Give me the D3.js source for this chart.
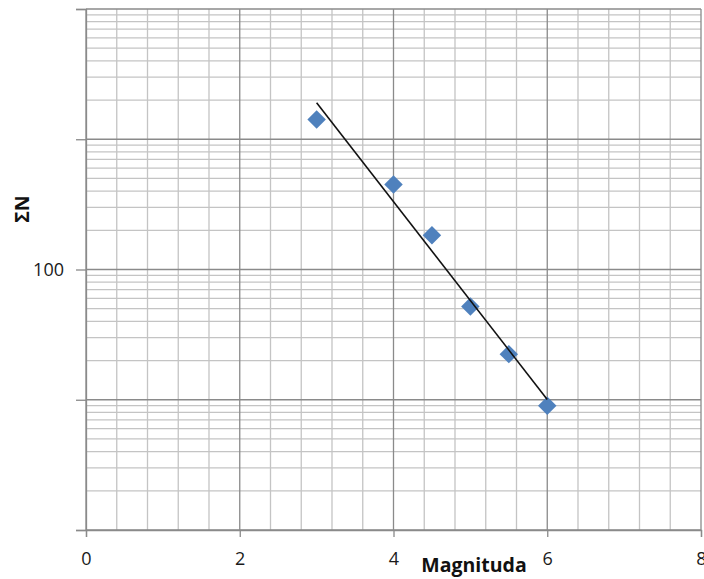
<!DOCTYPE html>
<html>
<head>
<meta charset="utf-8">
<script src="https://cdn.jsdelivr.net/npm/d3@7"></script>
<style>
  body { margin: 0; background: #fff; }
  svg { display: block; }
  .tick text { font-family: "Open Sans", sans-serif; font-size: 18px; fill: #1a1a1a; }
  .axis-title { font-family: "Open Sans", sans-serif; font-weight: bold; font-size: 19.5px; fill: #111; }
</style>
</head>
<body>
<div id="chart"></div>
<script>
  // data
  var magnitudes = [3, 4, 4.5, 5, 5.5, 6];
  var cumulativeN = [1420, 450, 183, 52, 22.4, 9];
  var xTicks = [0, 2, 4, 6, 8];
  var yDecades = [1, 10, 100, 1000, 10000];
  var yLabelled = [100];

  var width = 704,
      height = 579;

  var svg = d3.select("#chart")
      .append("svg")
      .attr("width", width)
      .attr("height", height);

  var x = d3.scaleLinear().domain([0, 8]).range([86, 701]);
  var y = d3.scaleLog().domain([1, 10000]).range([530, 9]);

  // minor grid
  var xMinor = d3.range(0, 8.001, 0.4).filter(function(v) {
    return Math.abs(v / 2 - Math.round(v / 2)) > 1e-6;
  });
  var yMinor = [];
  yDecades.slice(0, -1).forEach(function(d) {
    for (var k = 2; k <= 9; k++) yMinor.push(k * d);
  });

  var grid = svg.append("g");
  grid.selectAll(".vminor").data(xMinor).enter().append("line")
      .attr("x1", function(d) { return x(d); })
      .attr("x2", function(d) { return x(d); })
      .attr("y1", y(10000)).attr("y2", y(1))
      .attr("stroke", "#c4c4c4").attr("stroke-width", 1.3);
  grid.selectAll(".hminor").data(yMinor).enter().append("line")
      .attr("x1", x(0)).attr("x2", x(8))
      .attr("y1", function(d) { return y(d); })
      .attr("y2", function(d) { return y(d); })
      .attr("stroke", "#c4c4c4").attr("stroke-width", 1.3);
  grid.selectAll(".vmajor").data(xTicks).enter().append("line")
      .attr("x1", function(d) { return x(d); })
      .attr("x2", function(d) { return x(d); })
      .attr("y1", y(10000)).attr("y2", y(1))
      .attr("stroke", "#8a8a8a").attr("stroke-width", 1.3);
  grid.selectAll(".hmajor").data(yDecades).enter().append("line")
      .attr("x1", x(0)).attr("x2", x(8))
      .attr("y1", function(d) { return y(d); })
      .attr("y2", function(d) { return y(d); })
      .attr("stroke", "#8a8a8a").attr("stroke-width", 1.3);

  // axes
  var yAxis = d3.axisLeft(y)
      .tickValues(yDecades)
      .tickSize(10)
      .tickPadding(12)
      .tickFormat(function(d) { return yLabelled.indexOf(d) >= 0 ? d : ""; });
  var gy = svg.append("g").attr("transform", "translate(" + x(0) + ",0)").call(yAxis);

  var xAxis = d3.axisBottom(x)
      .tickValues(xTicks)
      .tickSize(7)
      .tickPadding(15)
      .tickFormat(d3.format("d"));
  var gx = svg.append("g").attr("transform", "translate(0," + y(1) + ")").call(xAxis);

  [gy, gx].forEach(function(g) {
    g.select(".domain").attr("stroke", "#8a8a8a").attr("stroke-width", 1.3);
    g.selectAll(".tick line").attr("stroke", "#8a8a8a").attr("stroke-width", 1.3);
  });

  // trend line (least squares on log10 N)
  var lx = magnitudes, ly = cumulativeN.map(function(v) { return Math.log10(v); });
  var mx = d3.mean(lx), my = d3.mean(ly);
  var slope = d3.sum(lx, function(v, i) { return (v - mx) * (ly[i] - my); }) /
              d3.sum(lx, function(v) { return (v - mx) * (v - mx); });
  var icpt = my - slope * mx;
  var xEnds = d3.extent(magnitudes);

  // points
  svg.selectAll(".pt").data(magnitudes).enter().append("path")
      .attr("d", d3.symbol().type(d3.symbolSquare).size(170))
      .attr("transform", function(d, i) {
        return "translate(" + x(d) + "," + y(cumulativeN[i]) + ") rotate(45)";
      })
      .attr("fill", "#4f81bd");

  svg.append("line")
      .attr("x1", x(xEnds[0])).attr("y1", y(Math.pow(10, icpt + slope * xEnds[0])))
      .attr("x2", x(xEnds[1])).attr("y2", y(Math.pow(10, icpt + slope * xEnds[1])))
      .attr("stroke", "#111").attr("stroke-width", 1.6);

  // titles
  svg.append("text").attr("class", "axis-title")
      .attr("x", 474).attr("y", 572)
      .attr("text-anchor", "middle")
      .text("Magnituda");
  svg.append("text").attr("class", "axis-title")
      .attr("transform", "translate(29,209) rotate(-90)")
      .attr("text-anchor", "middle")
      .text("ΣN");
</script>
</body>
</html>
